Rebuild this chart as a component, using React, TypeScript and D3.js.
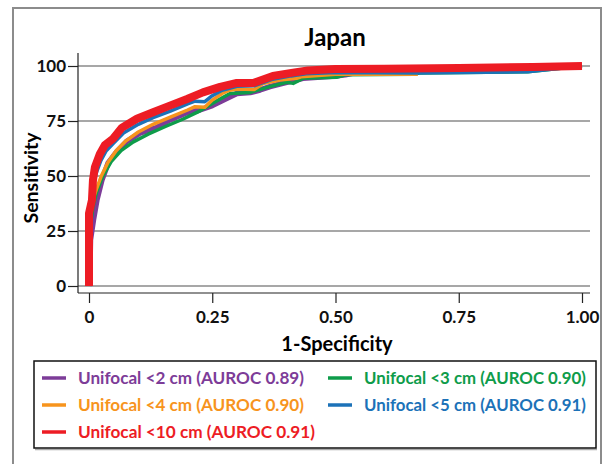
import React, { useEffect, useRef } from 'react';
import * as d3 from 'd3';

// ROC curves: [1-specificity, sensitivity]
const purple2cm: [number, number][] = [
  [0, 0], [0.002, 8.6], [0.003, 21], [0.009, 30], [0.016, 39], [0.026, 48], [0.039, 56],
  [0.056, 61], [0.076, 65.6], [0.103, 69.5], [0.137, 72], [0.164, 75.5], [0.198, 78.8],
  [0.225, 80], [0.25, 82], [0.28, 85.3], [0.3, 87.5], [0.327, 87.9], [0.347, 89.1],
  [0.367, 90.6], [0.401, 92.6], [0.434, 94.4], [0.5, 95.5], [0.52, 96], [0.55, 97.5],
  [0.75, 98.8], [1, 100],
];
const green3cm: [number, number][] = [
  [0, 0], [0, 12], [0.003, 28], [0.008, 36], [0.016, 43], [0.028, 50], [0.045, 56.5],
  [0.065, 61.5], [0.09, 65.5], [0.12, 69], [0.155, 72.5], [0.19, 75.8], [0.22, 79],
  [0.25, 83], [0.286, 87.5], [0.327, 88], [0.367, 90.6], [0.401, 92.6], [0.414, 92.1],
  [0.434, 94.4], [0.502, 94.9], [0.52, 96], [0.66, 96.3], [0.67, 96.8], [0.89, 97.4], [1, 100],
];
const orange4cm: [number, number][] = [
  [0, 0], [0, 25], [0.006, 38], [0.015, 44], [0.025, 50], [0.038, 56], [0.055, 61.5],
  [0.075, 66], [0.1, 70], [0.13, 73.5], [0.165, 76.8], [0.2, 80], [0.215, 81.5],
  [0.235, 81.2], [0.25, 84.5], [0.27, 87.5], [0.285, 89], [0.3, 89.5], [0.335, 89.3],
  [0.353, 92], [0.387, 93.6], [0.421, 94.4], [0.43, 95.1], [0.5, 96.2], [0.667, 96.2],
];
const blue5cm: [number, number][] = [
  [0, 0], [0, 22], [0.004, 36], [0.008, 45], [0.014, 51], [0.024, 57], [0.035, 61.5],
  [0.05, 65], [0.07, 69.5], [0.1, 73.5], [0.13, 76.5], [0.165, 79.5], [0.2, 82.8],
  [0.215, 84], [0.235, 83.8], [0.25, 86.5], [0.27, 89], [0.3, 90.8], [0.335, 91],
  [0.37, 93.8], [0.41, 95.5], [0.44, 96.5], [0.5, 97], [0.66, 96.8], [0.89, 97.4], [1, 100],
];
const red10cm: [number, number][] = [
  [0, 0], [0, 15], [0, 33], [0.006, 39], [0.008, 48], [0.012, 54], [0.022, 60],
  [0.032, 64], [0.049, 67], [0.067, 72], [0.097, 76], [0.13, 79], [0.164, 82],
  [0.199, 85], [0.231, 88], [0.266, 90.5], [0.3, 92.3], [0.333, 92.3], [0.373, 95.5],
  [0.414, 97], [0.444, 98], [0.5, 98.6], [0.6, 98.8], [0.75, 99.1], [0.9, 99.6], [1, 100],
];

const seriesNames = [
  'Unifocal <2 cm (AUROC 0.89)',
  'Unifocal <3 cm (AUROC 0.90)',
  'Unifocal <4 cm (AUROC 0.90)',
  'Unifocal <5 cm (AUROC 0.91)',
  'Unifocal <10 cm (AUROC 0.91)',
];
const seriesData = [purple2cm, green3cm, orange4cm, blue5cm, red10cm];
const seriesColors = ['#7d3c98', '#0e9c4a', '#f7941d', '#1c72b8', '#ed1c24'];
const seriesWidths = [5.5, 3.5, 3.5, 3.5, 8];

const xTickValues = [0, 0.25, 0.5, 0.75, 1];
const xTickLabels = ['0', '0.25', '0.50', '0.75', '1.00'];
const yTickValues = [0, 25, 50, 75, 100];

const FONT = "Lato, 'Open Sans', sans-serif";

const RocChart = () => {
  const ref = useRef<SVGSVGElement>(null);

  useEffect(() => {
    const width = 606;
    const height = 464;
    const svg = d3.select(ref.current).attr('width', width).attr('height', height);
    svg.selectAll('*').remove();

    const left = 78, right = 590, axisY = 293;
    const x = d3.scaleLinear().domain([0, 1]).range([89, 582]);
    const y = d3.scaleLinear().domain([0, 100]).range([286, 66]);

    // outer frame
    svg.append('rect')
      .attr('x', 13).attr('y', 8).attr('width', 588).attr('height', 470)
      .attr('fill', 'none').attr('stroke', '#8c8c8c').attr('stroke-width', 2);

    svg.append('text')
      .attr('x', 335).attr('y', 46)
      .attr('text-anchor', 'middle')
      .attr('font-family', FONT).attr('font-weight', 'bold').attr('font-size', 24)
      .text('Japan');

    // horizontal grid
    svg.append('g').selectAll('line')
      .data(yTickValues)
      .enter().append('line')
      .attr('x1', left).attr('x2', right)
      .attr('y1', d => y(d)).attr('y2', d => y(d))
      .attr('stroke', '#8a8a8a').attr('stroke-width', 1.5);

    // axes
    const xAxis = svg.append('g')
      .attr('transform', `translate(0,${axisY})`)
      .call(d3.axisBottom(x).tickValues(xTickValues)
        .tickFormat((d, i) => xTickLabels[i]).tickSize(10).tickSizeOuter(0).tickPadding(8));
    xAxis.select('.domain').remove();

    const yAxis = svg.append('g')
      .attr('transform', `translate(${left},0)`)
      .call(d3.axisLeft(y).tickValues(yTickValues).tickSize(10).tickSizeOuter(0).tickPadding(2));
    yAxis.select('.domain').remove();

    [xAxis, yAxis].forEach(g => {
      g.selectAll('text')
        .attr('font-family', FONT).attr('font-weight', 'bold').attr('font-size', 17).attr('fill', '#111');
      g.selectAll('line').attr('stroke', '#222').attr('stroke-width', 1.2);
    });

    svg.append('line')
      .attr('x1', left).attr('x2', right).attr('y1', axisY).attr('y2', axisY)
      .attr('stroke', '#222').attr('stroke-width', 1.2);
    svg.append('line')
      .attr('x1', left).attr('x2', left).attr('y1', 53).attr('y2', axisY)
      .attr('stroke', '#222').attr('stroke-width', 1.2);

    svg.append('text')
      .attr('x', 337).attr('y', 351)
      .attr('text-anchor', 'middle')
      .attr('font-family', FONT).attr('font-weight', 'bold').attr('font-size', 20)
      .text('1-Specificity');

    svg.append('text')
      .attr('transform', 'translate(38,178) rotate(-90)')
      .attr('text-anchor', 'middle')
      .attr('font-family', FONT).attr('font-weight', 'bold').attr('font-size', 19.5)
      .text('Sensitivity');

    // curves
    const line = d3.line<[number, number]>()
      .x(d => x(d[0]))
      .y(d => y(d[1]));

    svg.append('g').selectAll('path')
      .data(seriesData)
      .enter().append('path')
      .attr('d', d => line(d))
      .attr('fill', 'none')
      .attr('stroke', (d, i) => seriesColors[i])
      .attr('stroke-width', (d, i) => seriesWidths[i])
      .attr('stroke-linejoin', 'round');

    // legend
    svg.append('line')
      .attr('x1', 35).attr('x2', 597).attr('y1', 449.5).attr('y2', 449.5)
      .attr('stroke', '#aaa').attr('stroke-width', 1.5);
    svg.append('rect')
      .attr('x', 34).attr('y', 361).attr('width', 562).attr('height', 87)
      .attr('fill', '#fff').attr('stroke', '#111').attr('stroke-width', 1.5);

    // legend order: 2, 3 / 4, 5 / 10
    const legendOrder = [0, 1, 2, 3, 4];
    const legendX = [42, 328, 42, 328, 42];
    const legendY = [378, 378, 405, 405, 432];
    const textLen = [226, 222, 226, 222, 237];
    const lg = svg.append('g').selectAll('g')
      .data(legendOrder)
      .enter().append('g')
      .attr('transform', (d, i) => `translate(${legendX[i]},${legendY[i]})`);
    lg.append('line')
      .attr('x1', 0).attr('x2', 24).attr('y1', 0).attr('y2', 0)
      .attr('stroke', d => seriesColors[d]).attr('stroke-width', 3.5);
    lg.append('text')
      .attr('x', 36)
      .attr('y', 0).attr('dy', '0.35em')
      .attr('font-family', FONT).attr('font-weight', 'bold').attr('font-size', 17.5)
      .attr('fill', d => seriesColors[d])
      .attr('textLength', (d, i) => textLen[i])
      .attr('lengthAdjust', 'spacingAndGlyphs')
      .text(d => seriesNames[d]);
  }, []);

  return <svg ref={ref} style={{ position: 'absolute', left: 0, top: 0, display: 'block' }}></svg>;
};

export default function App() {
  return <RocChart />;
}
